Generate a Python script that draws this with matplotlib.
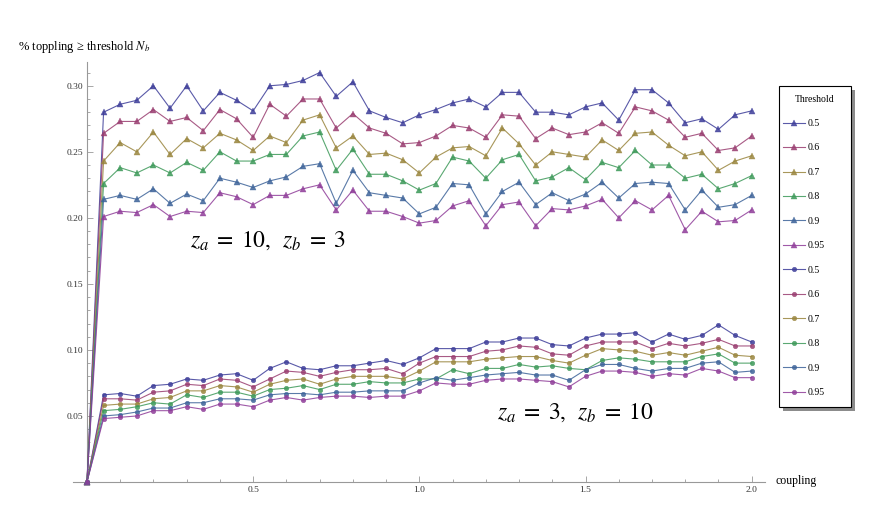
"""
Toppling fraction vs. coupling, two (z_a, z_b) configurations,
six thresholds each. Mathematica-style axes crossing at the origin.
"""

import numpy as np
import matplotlib.pyplot as plt
from matplotlib.patches import Rectangle
from matplotlib.ticker import FixedLocator, MultipleLocator

plt.rcParams['mathtext.fontset'] = 'stix'
SERIF = ['Liberation Serif', 'DejaVu Serif']

# ============================================================
# DATA
# ============================================================
coupling = np.round(np.arange(0, 2.001, 0.05), 2)
thresholds = ['0.5', '0.6', '0.7', '0.8', '0.9', '0.95']

# z_a = 10, z_b = 3  (triangles)
za10_t050 = [0, 0.280, 0.286, 0.289, 0.300, 0.283, 0.300, 0.281, 0.295, 0.289, 0.281,
             0.300, 0.301, 0.304, 0.310, 0.292, 0.303, 0.281, 0.276, 0.272, 0.278,
             0.282, 0.287, 0.290, 0.284, 0.295, 0.295, 0.280, 0.280, 0.278, 0.284,
             0.287, 0.274, 0.297, 0.297, 0.287, 0.272, 0.275, 0.267, 0.278, 0.281]
za10_t060 = [0, 0.264, 0.273, 0.273, 0.282, 0.273, 0.276, 0.266, 0.282, 0.275, 0.261,
             0.286, 0.277, 0.290, 0.290, 0.268, 0.279, 0.268, 0.264, 0.256, 0.257,
             0.262, 0.270, 0.268, 0.261, 0.278, 0.277, 0.260, 0.268, 0.263, 0.265,
             0.272, 0.264, 0.284, 0.281, 0.274, 0.261, 0.264, 0.251, 0.253, 0.262]
za10_t070 = [0, 0.243, 0.257, 0.250, 0.265, 0.248, 0.260, 0.253, 0.264, 0.259, 0.251,
             0.262, 0.257, 0.274, 0.278, 0.253, 0.262, 0.248, 0.249, 0.244, 0.234,
             0.246, 0.253, 0.254, 0.247, 0.268, 0.256, 0.240, 0.250, 0.248, 0.246,
             0.259, 0.251, 0.264, 0.265, 0.255, 0.247, 0.250, 0.236, 0.243, 0.247]
za10_t080 = [0, 0.226, 0.238, 0.234, 0.240, 0.234, 0.242, 0.236, 0.250, 0.243, 0.243,
             0.248, 0.248, 0.262, 0.265, 0.236, 0.252, 0.233, 0.233, 0.228, 0.221,
             0.226, 0.246, 0.243, 0.230, 0.244, 0.248, 0.228, 0.231, 0.238, 0.229,
             0.242, 0.238, 0.251, 0.240, 0.240, 0.230, 0.233, 0.222, 0.226, 0.232]
za10_t090 = [0, 0.214, 0.217, 0.214, 0.222, 0.211, 0.218, 0.213, 0.230, 0.227, 0.223,
             0.228, 0.231, 0.239, 0.241, 0.211, 0.236, 0.219, 0.217, 0.215, 0.203,
             0.208, 0.226, 0.225, 0.203, 0.220, 0.227, 0.210, 0.219, 0.213, 0.218,
             0.227, 0.215, 0.226, 0.227, 0.226, 0.206, 0.221, 0.208, 0.210, 0.217]
za10_t095 = [0, 0.201, 0.205, 0.204, 0.210, 0.201, 0.205, 0.204, 0.219, 0.216, 0.210,
             0.217, 0.217, 0.222, 0.225, 0.206, 0.221, 0.205, 0.205, 0.201, 0.196,
             0.198, 0.209, 0.213, 0.194, 0.210, 0.212, 0.194, 0.207, 0.206, 0.209,
             0.214, 0.200, 0.213, 0.206, 0.217, 0.191, 0.205, 0.197, 0.198, 0.206]

# z_a = 3, z_b = 10  (circles)
za3_t050 = [0, 0.066, 0.067, 0.065, 0.073, 0.074, 0.078, 0.077, 0.081, 0.082, 0.077,
            0.086, 0.091, 0.086, 0.085, 0.088, 0.088, 0.090, 0.092, 0.089, 0.094,
            0.101, 0.101, 0.101, 0.106, 0.106, 0.109, 0.109, 0.104, 0.103, 0.109,
            0.112, 0.112, 0.113, 0.106, 0.112, 0.108, 0.111, 0.119, 0.111, 0.106]
za3_t060 = [0, 0.063, 0.063, 0.062, 0.068, 0.069, 0.074, 0.073, 0.078, 0.077, 0.072,
            0.078, 0.084, 0.083, 0.080, 0.083, 0.085, 0.085, 0.086, 0.082, 0.090,
            0.095, 0.095, 0.095, 0.099, 0.100, 0.103, 0.102, 0.097, 0.096, 0.103,
            0.106, 0.106, 0.106, 0.101, 0.105, 0.103, 0.105, 0.108, 0.103, 0.103]
za3_t070 = [0, 0.058, 0.059, 0.059, 0.063, 0.064, 0.069, 0.069, 0.073, 0.072, 0.068,
            0.074, 0.077, 0.078, 0.074, 0.078, 0.080, 0.080, 0.080, 0.078, 0.084,
            0.091, 0.091, 0.091, 0.093, 0.094, 0.095, 0.095, 0.092, 0.090, 0.096,
            0.101, 0.100, 0.099, 0.096, 0.098, 0.096, 0.099, 0.102, 0.096, 0.095]
za3_t080 = [0, 0.054, 0.055, 0.057, 0.060, 0.059, 0.066, 0.064, 0.068, 0.068, 0.065,
            0.070, 0.071, 0.073, 0.070, 0.074, 0.074, 0.076, 0.075, 0.075, 0.078,
            0.078, 0.085, 0.082, 0.086, 0.086, 0.089, 0.087, 0.088, 0.086, 0.085,
            0.092, 0.094, 0.093, 0.091, 0.091, 0.091, 0.095, 0.097, 0.090, 0.090]
za3_t090 = [0, 0.050, 0.051, 0.053, 0.056, 0.056, 0.060, 0.060, 0.063, 0.063, 0.062,
            0.066, 0.067, 0.067, 0.066, 0.068, 0.068, 0.069, 0.069, 0.069, 0.075,
            0.079, 0.077, 0.079, 0.081, 0.082, 0.083, 0.081, 0.081, 0.077, 0.085,
            0.089, 0.089, 0.086, 0.084, 0.086, 0.086, 0.090, 0.091, 0.083, 0.084]
za3_t095 = [0, 0.048, 0.049, 0.050, 0.054, 0.054, 0.057, 0.055, 0.059, 0.059, 0.057,
            0.062, 0.064, 0.062, 0.064, 0.065, 0.065, 0.064, 0.065, 0.065, 0.069,
            0.075, 0.074, 0.074, 0.077, 0.078, 0.078, 0.077, 0.076, 0.072, 0.080,
            0.084, 0.084, 0.083, 0.080, 0.082, 0.081, 0.086, 0.084, 0.079, 0.079]

tri_series = [za10_t050, za10_t060, za10_t070, za10_t080, za10_t090, za10_t095]
circ_series = [za3_t050, za3_t060, za3_t070, za3_t080, za3_t090, za3_t095]

# Mathematica default palette
COLORS = [(0.24, 0.24, 0.60), (0.60, 0.24, 0.44), (0.60, 0.52, 0.24),
          (0.24, 0.60, 0.35), (0.24, 0.39, 0.60), (0.56, 0.24, 0.60)]

W, H = 872, 512


def px_box(x0, y0, x1, y1):
    """Pixel box (top-left origin) -> figure-fraction [left, bottom, width, height]."""
    return [x0 / W, 1 - y1 / H, (x1 - x0) / W, (y1 - y0) / H]


fig = plt.figure(figsize=(W / 100, H / 100), dpi=100)
ax = fig.add_axes(px_box(73, 62, 765, 482))

handles = []
for series, marker, ms in [(tri_series, '^', 4.0), (circ_series, 'o', 3.3)]:
    for vals, color, lab in zip(series, COLORS, thresholds):
        h, = ax.plot(coupling, vals, color=color, lw=0.8, alpha=0.85,
                     marker=marker, markersize=ms, markerfacecolor=color,
                     markeredgecolor=color, markeredgewidth=0.3,
                     clip_on=False, label=lab, zorder=3)
        handles.append(h)

ax.set_xlim(-0.042, 2.04)
ax.set_ylim(0, 0.318)

# Mathematica-style axes through the origin
for side in ['top', 'right']:
    ax.spines[side].set_visible(False)
ax.spines['left'].set_position(('data', 0))
for side in ['left', 'bottom']:
    ax.spines[side].set_color('#999999')
    ax.spines[side].set_linewidth(0.8)

ax.xaxis.set_major_locator(FixedLocator([0.5, 1.0, 1.5, 2.0]))
ax.xaxis.set_minor_locator(FixedLocator(np.round(np.arange(0.1, 2.01, 0.1), 2)))
ax.set_xticklabels(['0.5', '1.0', '1.5', '2.0'])
ax.yaxis.set_major_locator(FixedLocator([0.05, 0.10, 0.15, 0.20, 0.25, 0.30]))
ax.yaxis.set_minor_locator(MultipleLocator(0.01))
ax.set_yticklabels(['0.05', '0.10', '0.15', '0.20', '0.25', '0.30'])

ax.tick_params(which='both', direction='in', color='#999999', width=0.6,
               labelsize=6.8, labelcolor='#333333')
ax.tick_params(which='major', length=4.5, pad=3)
ax.tick_params(which='minor', length=2.5)
for lbl in ax.get_xticklabels() + ax.get_yticklabels():
    lbl.set_family(SERIF)

fig.text(18 / W, 1 - 47 / H, '% toppling \u2265 threshold $N_b$', family=SERIF,
         fontsize=9, va='center', ha='left')
fig.text(775 / W, 1 - 481 / H, 'coupling', family=SERIF, fontsize=8.5,
         va='center', ha='left')

ax.text(0.544, 0.178, r'$z_a\;=\;10,\ \,z_b\;=\;3$', fontsize=17,
        ha='center', va='baseline')
ax.text(1.469, 0.0477, r'$z_a\;=\;3,\ \,z_b\;=\;10$', fontsize=17,
        ha='center', va='baseline')

# legend frame drawn by hand (Mathematica box with drop shadow)
fig.patches.append(Rectangle((783 / W, 1 - 411 / H), 72 / W, 321 / H,
                             transform=fig.transFigure, facecolor='#8c8c8c',
                             edgecolor='none', zorder=5))
fig.patches.append(Rectangle((779 / W, 1 - 407 / H), 72 / W, 321 / H,
                             transform=fig.transFigure, facecolor='white',
                             edgecolor='black', linewidth=0.8, zorder=6))
fig.text(815 / W, 1 - 99 / H, 'Threshold', family=SERIF, fontsize=7,
         ha='center', va='center', zorder=7)

leg = fig.legend(handles=handles, loc='upper left',
                 bbox_to_anchor=(783 / W, 1 - 119 / H),
                 borderaxespad=0, borderpad=0, frameon=False,
                 handlelength=2.3, handletextpad=0.25, labelspacing=1.59,
                 prop={'family': SERIF, 'size': 7})
leg.set_zorder(7)

fig.savefig('out.png', dpi=100)
